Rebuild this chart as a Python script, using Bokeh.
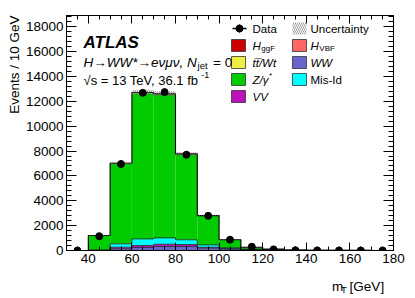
import numpy as np
from bokeh.plotting import figure
from bokeh.layouts import column
from bokeh.models import Label, LinearAxis, SingleIntervalTicker, Range1d, Title
from bokeh.embed import file_html
from bokeh.resources import INLINE

# ---------------- data ----------------
bin_edges = [30, 40, 50, 60, 70, 80, 90, 100, 110, 120, 130, 140, 150, 160, 170, 180]
bin_centers = [35, 45, 55, 65, 75, 85, 95, 105, 115, 125, 135, 145, 155, 165, 175]

# stacked backgrounds, bottom to top
ww_events   = [0, 10, 135, 240, 320, 320, 190, 120, 70, 35, 15, 8, 5, 3, 2]
vv_events   = [0, 5, 130, 160, 185, 160, 70, 30, 15, 8, 4, 2, 1, 1, 0]
misid_events = [0, 20, 270, 530, 510, 380, 190, 60, 20, 8, 4, 2, 1, 1, 1]
zgamma_events = [0, 1160, 6450, 11720, 11520, 6860, 2320, 630, 150, 55, 18, 6, 3, 2, 1]
top_events  = [0, 5, 15, 25, 30, 25, 15, 10, 6, 4, 3, 2, 1, 1, 0]
hvbf_events = [0, 0, 1, 2, 3, 3, 2, 1, 1, 0, 0, 0, 0, 0, 0]
hggf_events = [0, 3, 15, 25, 30, 25, 20, 12, 5, 2, 1, 0, 0, 0, 0]
mc_uncertainty = [0, 30, 120, 200, 200, 130, 60, 25, 12, 6, 3, 2, 1, 1, 1]

data_events = [0, 1150, 6960, 12680, 12740, 7700, 2790, 870, 300, 90, 20, 8, 4, 3, 1]
data_errors = [0, 34, 83, 113, 113, 88, 53, 29, 17, 9, 4, 3, 2, 2, 1]

stack_names = ["WW", "VV", "Mis-Id", "Z/γ*", "tt/Wt", "H_VBF", "H_ggF"]
stack_values = [ww_events, vv_events, misid_events, zgamma_events, top_events, hvbf_events, hggf_events]
stack_colors = ["#6666CC", "#BB11BB", "#00FFFF", "#00CC00", "#EEEE44", "#FF6666", "#CC0000"]

x_ticks_interval = 20
y_ticks_interval = 2000
XMIN, XMAX = 30, 180
YMIN, YMAX = 0, 18900

FONT = "Liberation Sans"

# ---------------- main figure ----------------
p = figure(width=415, height=270, x_range=Range1d(XMIN, XMAX), y_range=Range1d(YMIN, YMAX),
           output_backend="svg", toolbar_location=None,
           min_border_left=66, min_border_right=22, min_border_top=15, min_border_bottom=20)
p.xgrid.visible = False
p.ygrid.visible = False
p.outline_line_color = "black"
p.outline_line_width = 1
p.background_fill_color = "white"
p.border_fill_color = "white"


def style_axis(ax, tick_in, minor_in, labels=True):
    ax.major_tick_in = tick_in
    ax.major_tick_out = 0
    ax.minor_tick_in = minor_in
    ax.minor_tick_out = 0
    ax.axis_line_color = "black"
    ax.major_tick_line_color = "black"
    ax.minor_tick_line_color = "black"
    ax.major_label_text_font = FONT
    if labels:
        ax.major_label_text_color = "black"
        ax.major_label_text_font_size = "13.5px"
        ax.major_label_standoff = 3
    else:
        ax.major_label_text_color = None
        ax.major_label_text_font_size = "1px"
        ax.major_label_standoff = 0


p.xaxis.ticker = SingleIntervalTicker(interval=x_ticks_interval, num_minor_ticks=4)
p.yaxis.ticker = SingleIntervalTicker(interval=y_ticks_interval, num_minor_ticks=5)
style_axis(p.xaxis[0], 8, 4)
style_axis(p.yaxis[0], 10, 5)

top_axis = LinearAxis(ticker=SingleIntervalTicker(interval=x_ticks_interval, num_minor_ticks=4))
style_axis(top_axis, 8, 4, labels=False)
p.add_layout(top_axis, "above")
right_axis = LinearAxis(ticker=SingleIntervalTicker(interval=y_ticks_interval, num_minor_ticks=5))
style_axis(right_axis, 10, 5, labels=False)
p.add_layout(right_axis, "right")

# y-axis title, top-aligned as in ROOT
p.add_layout(Title(text="Events / 10 GeV", align="right", text_font=FONT, text_font_size="13.5px",
                   text_font_style="normal", text_color="black", standoff=2, offset=0), "left")

# ---------------- stacked histogram ----------------
lefts = np.array(bin_edges[:-1])
rights = np.array(bin_edges[1:])
bottom = np.zeros(len(bin_centers))
levels = []
for vals, col in zip(stack_values, stack_colors):
    top = bottom + np.array(vals, dtype=float)
    p.quad(left=lefts, right=rights, bottom=bottom, top=top, fill_color=col, line_color=None)
    levels.append(top.copy())
    bottom = top
total = bottom

# outlines of the stack components (step lines)
edges = np.array(bin_edges, dtype=float)
for lvl in levels[:3]:
    p.step(x=edges, y=np.append(lvl, lvl[-1]), mode="after", line_color="#222222", line_width=0.8)
p.step(x=edges, y=np.append(total, total[-1]), mode="after", line_color="black", line_width=1.1)

# uncertainty band
unc = np.array(mc_uncertainty, dtype=float)
p.quad(left=lefts, right=rights, bottom=total - unc, top=total + unc, fill_alpha=0,
       line_color=None, hatch_pattern="\\", hatch_color="#666666", hatch_scale=4, hatch_weight=0.7)

# data
d = np.array(data_events, dtype=float)
e = np.array(data_errors, dtype=float)
p.segment(x0=bin_centers, y0=d - e, x1=bin_centers, y1=d + e, line_color="black", line_width=1.2)
p.scatter(x=bin_centers, y=d, size=7, marker="circle", fill_color="black", line_color="black")

# ---------------- annotations (positions in picture pixels) ----------------
FL, FT, FW, FH = 66, 15, 327, 235


def X(ix):
    return XMIN + (ix - FL) / FW * (XMAX - XMIN)


def Y(iy):
    return YMAX - (iy - FT) / FH * (YMAX - YMIN)


WID = {' ': .278, '*': .389, ',': .278, '-': .333, '.': .278, '/': .278, '=': .584, '[': .278, ']': .278,
       '→': 1.0, '√': .549, 'ν': .5, 'μ': .577, 'γ': .5}
for ch in "0123456789":
    WID[ch] = .556
WID.update({'A': .667, 'B': .667, 'C': .722, 'D': .722, 'E': .667, 'F': .611, 'G': .778, 'H': .722, 'I': .278,
            'L': .556, 'M': .833, 'N': .722, 'S': .667, 'T': .611, 'V': .667, 'W': .944, 'Z': .611,
            'a': .556, 'b': .556, 'c': .5, 'd': .556, 'e': .556, 'f': .278, 'g': .556, 'i': .222, 'j': .222,
            'm': .833, 'n': .556, 'r': .333, 's': .5, 't': .278, 'v': .5, 'y': .5})


def tw(s, size):
    return sum(WID.get(c, .556) for c in s) * size


def text(fig, x, y, s, size, style="normal", baseline="alphabetic", align="left"):
    fig.add_layout(Label(x=x, y=y, text=s, text_font=FONT, text_font_size=f"{size}px",
                         text_font_style=style, text_baseline=baseline, text_align=align,
                         text_color="black"))


def pieces(px, py, parts, baseline="alphabetic"):
    # parts: (text, font size, style, vertical shift, gap before in px)
    for s, size, style, dy, gap in parts:
        px += gap
        text(p, X(px), Y(py + dy), s, size, style, baseline)
        px += tw(s, size)


# ATLAS label
text(p, X(83), Y(42), "ATLAS", 17, "bold italic")
pieces(83, 62, [("H→WW*→eνμν, N", 13.5, "italic", 0, 0), ("jet", 9.5, "normal", 3, 0.5),
                ("= 0", 13.5, "normal", 0, 5.5)])
pieces(83, 80, [("√s = 13 TeV, 36.1 fb", 13, "normal", 0, 0), ("-1", 9, "normal", -6, 0.5)])

# legend
rows = [28, 45, 62, 79, 96]
c1_sw, c1_tx = 231, 252
c2_sw, c2_tx = 292, 310
LS = 11.5


def swatch(ix, iy, color, hatch=False):
    if hatch:
        p.quad(left=X(ix), right=X(ix + 14), bottom=Y(iy + 6), top=Y(iy - 6), fill_alpha=0, line_color=None,
               hatch_pattern="\\", hatch_color="#777777", hatch_scale=4, hatch_weight=0.7)
    else:
        p.quad(left=X(ix), right=X(ix + 14), bottom=Y(iy + 6), top=Y(iy - 6), fill_color=color,
               line_color="#333333", line_width=0.8)


# Data entry
p.segment(x0=X(232), y0=Y(rows[0]), x1=X(246), y1=Y(rows[0]), line_color="black", line_width=1.3)
p.segment(x0=X(239), y0=Y(rows[0] - 4), x1=X(239), y1=Y(rows[0] + 4), line_color="black", line_width=1.3)
p.scatter(x=[X(239)], y=[Y(rows[0])], size=7, marker="circle", fill_color="black", line_color="black")
pieces(c1_tx, rows[0], [("Data", LS, "normal", 0, 0)], baseline="middle")

swatch(c2_sw, rows[0], None, hatch=True)
pieces(c2_tx, rows[0], [("Uncertainty", LS, "normal", 0, 0)], baseline="middle")

swatch(c1_sw, rows[1], stack_colors[6])
pieces(c1_tx, rows[1], [("H", LS, "italic", 0, 0), ("ggF", 8, "normal", 3, 0.5)], baseline="middle")
swatch(c2_sw, rows[1], stack_colors[5])
pieces(c2_tx, rows[1], [("H", LS, "italic", 0, 0), ("VBF", 8, "normal", 3, 0.5)], baseline="middle")

swatch(c1_sw, rows[2], stack_colors[4])
pieces(c1_tx, rows[2], [("tt\u0305/Wt", LS, "italic", 0, 0)], baseline="middle")
swatch(c2_sw, rows[2], stack_colors[0])
pieces(c2_tx, rows[2], [("WW", LS, "italic", 0, 0)], baseline="middle")

swatch(c1_sw, rows[3], stack_colors[3])
pieces(c1_tx, rows[3], [("Z/γ", LS, "italic", 0, 0), ("*", 8, "normal", -4, 0.5)], baseline="middle")
swatch(c2_sw, rows[3], stack_colors[2])
pieces(c2_tx, rows[3], [("Mis-Id", LS, "normal", 0, 0)], baseline="middle")

swatch(c1_sw, rows[4], stack_colors[1])
pieces(c1_tx, rows[4], [("VV", LS, "italic", 0, 0)], baseline="middle")

# ---------------- x-axis title strip (picture pixels, y measured from strip top) ----------------
STRIP_H = 28
q = figure(width=415, height=STRIP_H, x_range=Range1d(0, 415), y_range=Range1d(STRIP_H, 0),
           output_backend="svg", toolbar_location=None, x_axis_location=None, y_axis_location=None,
           min_border_left=0, min_border_right=0, min_border_top=0, min_border_bottom=0)
q.xgrid.visible = False
q.ygrid.visible = False
q.outline_line_color = None
q.background_fill_color = "white"
q.border_fill_color = "white"

x_start = 337
text(q, x_start, 16, "m", 13.5)
x_start += tw("m", 13.5)
text(q, x_start, 19, "T", 9.5)
x_start += tw("T", 9.5) + tw(" ", 13.5) + 1.5
text(q, x_start, 16, "[GeV]", 13.5)

layout = column(p, q, spacing=0)
open("out.html", "w").write(file_html(layout, INLINE))
